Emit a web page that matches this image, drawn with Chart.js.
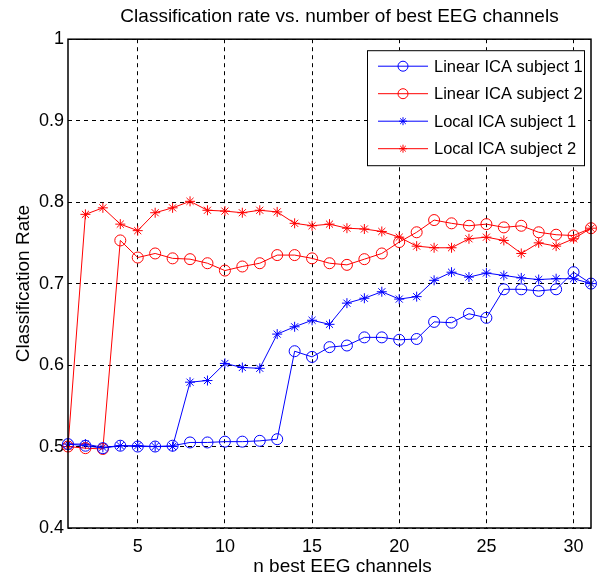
<!DOCTYPE html>
<html>
<head>
<meta charset="utf-8">
<title>Classification rate vs. number of best EEG channels</title>
<script src="https://cdn.jsdelivr.net/npm/chart.js@4.4.1/dist/chart.umd.min.js"></script>
<style>
    html, body { margin: 0; padding: 0; background: #ffffff; }
    #wrap { width: 599px; height: 578px; }
</style>
</head>
<body>
<div id="wrap"><canvas id="rateChart"></canvas></div>
<script>
/* ── Data ── */
const channels = [1, 2, 3, 4, 5, 6, 7, 8, 9, 10, 11, 12, 13, 14, 15, 16,
                  17, 18, 19, 20, 21, 22, 23, 24, 25, 26, 27, 28, 29, 30, 31];

const linearS1 = [0.503, 0.501, 0.498, 0.501, 0.500, 0.500, 0.501, 0.505, 0.505, 0.506, 0.506,
                  0.507, 0.509, 0.617, 0.610, 0.622, 0.624, 0.634, 0.634, 0.631, 0.632,
                  0.653, 0.652, 0.663, 0.658, 0.693, 0.693, 0.691, 0.693, 0.714, 0.700];
const linearS2 = [0.500, 0.498, 0.497, 0.753, 0.732, 0.737, 0.731, 0.730, 0.725, 0.716, 0.721,
                  0.725, 0.735, 0.735, 0.731, 0.725, 0.723, 0.730, 0.737, 0.751, 0.763,
                  0.778, 0.774, 0.771, 0.773, 0.769, 0.771, 0.763, 0.760, 0.759, 0.768];
const localS1  = [0.503, 0.503, 0.499, 0.501, 0.501, 0.500, 0.500, 0.579, 0.581, 0.602, 0.597,
                  0.596, 0.638, 0.647, 0.655, 0.650, 0.676, 0.682, 0.690, 0.681, 0.684,
                  0.704, 0.714, 0.708, 0.713, 0.710, 0.707, 0.705, 0.706, 0.706, 0.700];
const localS2  = [0.500, 0.785, 0.793, 0.773, 0.765, 0.787, 0.793, 0.801, 0.790, 0.789, 0.787,
                  0.790, 0.788, 0.774, 0.771, 0.773, 0.768, 0.767, 0.764, 0.757, 0.746,
                  0.744, 0.744, 0.755, 0.757, 0.753, 0.737, 0.750, 0.746, 0.755, 0.768];

const seriesNames = ['Linear ICA subject 1', 'Linear ICA subject 2',
                     'Local ICA subject 1', 'Local ICA subject 2'];

const xTicks = [5, 10, 15, 20, 25, 30];
const yTicks = [0.4, 0.5, 0.6, 0.7, 0.8, 0.9, 1];
const yTickLabels = ['0.4', '0.5', '0.6', '0.7', '0.8', '0.9', '1'];

const FONT = 'Liberation Sans, Arial, Helvetica, sans-serif';

function toPoints(values) {
    return values.map((v, i) => ({ x: channels[i], y: v }));
}

function makeSeries(label, values, color, marker) {
    return {
        label: label,
        data: toPoints(values),
        borderColor: color,
        backgroundColor: color,
        borderWidth: 1,
        tension: 0,
        clip: false,
        pointStyle: marker,
        pointRadius: marker === 'circle' ? 5.5 : 5,
        pointBorderWidth: 1,
        pointBackgroundColor: 'transparent',
        pointBorderColor: color
    };
}

/* ── Box around the axes (MATLAB style) ── */
const framePlugin = {
    id: 'frame',
    afterDatasetsDraw(chart) {
        const { ctx, chartArea: a } = chart;
        ctx.save();
        ctx.strokeStyle = '#000';
        ctx.lineWidth = 1.5;
        ctx.strokeRect(a.left, a.top, a.right - a.left, a.bottom - a.top);
        ctx.restore();
    }
};

/* ── The titles in the reference sit a little right of the axes centre ── */
function nudge(box, dx) {
    if (!box || box._nudged) return;
    const draw = box.draw;
    box.draw = function (...args) {
        this.ctx.save();
        this.ctx.translate(dx, 0);
        draw.apply(this, args);
        this.ctx.restore();
    };
    box._nudged = true;
}
const nudgeTitlesPlugin = {
    id: 'nudgeTitles',
    afterLayout(chart) {
        nudge(chart.titleBlock, 10);
        const xs = chart.scales.x;
        if (xs && !xs._nudged) {
            const drawTitle = xs.drawTitle;
            xs.drawTitle = function (...args) {
                this.ctx.save();
                this.ctx.translate(13, 0);
                drawTitle.apply(this, args);
                this.ctx.restore();
            };
            xs._nudged = true;
        }
    }
};

/* ── Legend box inside the plot, upper right ── */
const boxLegendPlugin = {
    id: 'boxLegend',
    afterDraw(chart) {
        const { ctx, chartArea: a } = chart;
        const w = 217, h = 115;
        const x0 = a.right - 7 - w, y0 = a.top + 11;
        ctx.save();
        ctx.fillStyle = '#fff';
        ctx.fillRect(x0, y0, w, h);
        ctx.strokeStyle = '#000';
        ctx.lineWidth = 1;
        ctx.strokeRect(x0 + 0.5, y0 + 0.5, w, h);

        chart.data.datasets.forEach((ds, i) => {
            const y = y0 + 16 + i * 27.5;
            ctx.strokeStyle = ds.borderColor;
            ctx.lineWidth = 1;
            ctx.beginPath();
            ctx.moveTo(x0 + 11, y);
            ctx.lineTo(x0 + 61, y);
            ctx.stroke();
            ctx.fillStyle = 'rgba(0,0,0,0)';
            Chart.helpers.drawPoint(ctx, {
                pointStyle: ds.pointStyle,
                radius: ds.pointStyle === 'circle' ? 5 : 4,
                rotation: 0,
                borderWidth: 1
            }, x0 + 36, y);
            ctx.fillStyle = '#000';
            ctx.font = '16.5px ' + FONT;
            ctx.textBaseline = 'middle';
            ctx.textAlign = 'left';
            ctx.fillText(ds.label, x0 + 67, y + 1);
        });
        ctx.restore();
    }
};

new Chart(document.getElementById('rateChart'), {
    type: 'line',
    data: {
        datasets: [
            makeSeries(seriesNames[0], linearS1, '#0000ff', 'circle'),
            makeSeries(seriesNames[1], linearS2, '#ff0000', 'circle'),
            makeSeries(seriesNames[2], localS1,  '#0000ff', 'star'),
            makeSeries(seriesNames[3], localS2,  '#ff0000', 'star')
        ]
    },
    options: {
        responsive: true,
        maintainAspectRatio: false,
        animation: false,
        layout: { padding: { left: 0, right: 8, top: 0, bottom: 0 } },
        plugins: {
            legend: { display: false },
            tooltip: { enabled: false },
            title: {
                display: true,
                text: 'Classification rate vs. number of best EEG channels',
                color: '#000',
                fullSize: false,
                font: { family: FONT, size: 19, weight: 'normal' },
                padding: { top: 5.6, bottom: 10.8 }
            }
        },
        scales: {
            x: {
                type: 'linear',
                min: 1, max: 31,
                afterBuildTicks: s => { s.ticks = xTicks.map(v => ({ value: v })); },
                afterFit: s => { s.height = 50; },
                ticks: {
                    color: '#000',
                    font: { family: FONT, size: 18 },
                    padding: 8,
                    autoSkip: false,
                    maxRotation: 0
                },
                grid: { color: '#000', lineWidth: 1, drawTicks: false },
                border: { display: false, dash: [4, 4] },
                title: {
                    display: true,
                    text: 'n best EEG channels',
                    color: '#000',
                    font: { family: FONT, size: 19 },
                    padding: { top: 0, bottom: 0 }
                }
            },
            y: {
                type: 'linear',
                min: 0.4, max: 1,
                afterBuildTicks: s => { s.ticks = yTicks.map(v => ({ value: v })); },
                afterFit: s => { s.width = 68; },
                ticks: {
                    color: '#000',
                    font: { family: FONT, size: 18 },
                    padding: 4,
                    callback: v => yTickLabels[yTicks.findIndex(t => Math.abs(t - v) < 1e-9)]
                },
                grid: { color: '#000', lineWidth: 1, drawTicks: false },
                border: { display: false, dash: [4, 4] },
                title: {
                    display: true,
                    text: 'Classification Rate',
                    color: '#000',
                    font: { family: FONT, size: 19 },
                    padding: { top: 12, bottom: 0 }
                }
            }
        }
    },
    plugins: [framePlugin, nudgeTitlesPlugin, boxLegendPlugin]
});
</script>
</body>
</html>
